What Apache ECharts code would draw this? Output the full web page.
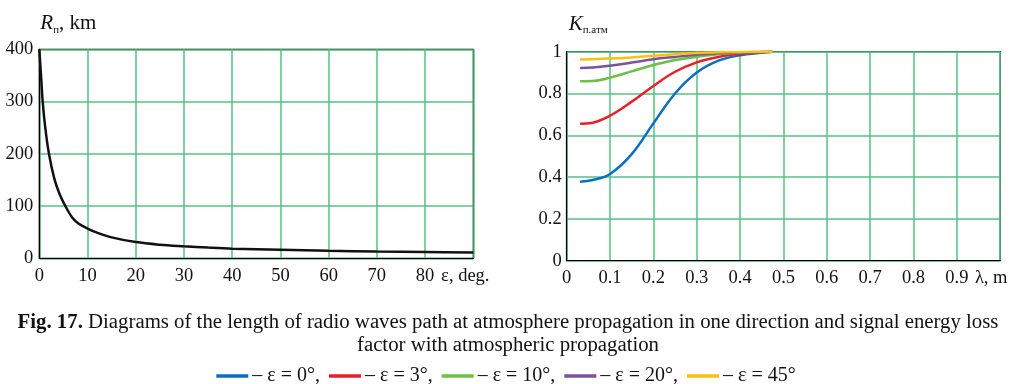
<!DOCTYPE html>
<html><head><meta charset="utf-8">
<script src="https://cdn.jsdelivr.net/npm/echarts@6/dist/echarts.min.js"></script>
<style>html,body{margin:0;padding:0;background:#fff}#c{width:1012px;height:384px}</style>
</head><body><div id="c"></div>
<script>
// Left chart: path length R (km) vs elevation angle (deg)
const epsDeg = [0, 0.4, 0.7, 1.25, 2, 3.1, 4.2, 5.4, 6.9, 8.2, 10, 12, 15, 20, 25, 30, 35, 40, 50, 60, 70, 80, 90];
const rangeKm = [400, 344, 300, 249, 200, 153, 123, 100, 77, 66, 57, 49, 40, 31, 26, 23, 20.5, 18.5, 16.5, 14.5, 13, 12, 11];
const leftXTicks = [0, 10, 20, 30, 40, 50, 60, 70, 80];
const leftYTicks = [0, 100, 200, 300, 400];

// Right chart: loss factor vs wavelength (m)
const lambdaM = [0.031, 0.06, 0.1, 0.15, 0.2, 0.25, 0.3, 0.35, 0.4, 0.45, 0.475];
const k_eps0  = [0.378, 0.386, 0.415, 0.51, 0.657, 0.80, 0.90, 0.957, 0.983, 0.995, 1.0];
const k_eps3  = [0.655, 0.66, 0.694, 0.761, 0.836, 0.904, 0.949, 0.975, 0.99, 0.998, 1.0];
const k_eps10 = [0.859, 0.86, 0.876, 0.906, 0.936, 0.96, 0.976, 0.988, 0.995, 0.999, 1.0];
const k_eps20 = [0.922, 0.924, 0.933, 0.948, 0.964, 0.975, 0.985, 0.992, 0.997, 0.999, 1.0];
const k_eps45 = [0.963, 0.964, 0.967, 0.972, 0.981, 0.988, 0.994, 0.997, 0.999, 1.0, 1.0];
const seriesNames = ['ε = 0°', 'ε = 3°', 'ε = 10°', 'ε = 20°', 'ε = 45°'];
const seriesColors = ['#0a6fc0', '#e8202a', '#6cbf45', '#7b52a0', '#fbbf10'];
const rightXTicks = [0, 0.1, 0.2, 0.3, 0.4, 0.5, 0.6, 0.7, 0.8, 0.9];

const captionBold = 'Fig. 17.';
const captionLine1 = ' Diagrams of the length of radio waves path at atmosphere propagation in one direction and signal energy loss';
const captionLine2 = 'factor with atmospheric propagation';

const FONT = '"Liberation Serif", "Times New Roman", serif';
const gridGreen = '#55c083';
const pair = (xs, ys) => xs.map((x, i) => [x, ys[i]]);

const chart = echarts.init(document.getElementById('c'));
const axisCommon = {
  axisLine: {show: true, lineStyle: {color: '#000', width: 1.2}},
  axisTick: {show: false},
  splitLine: {show: true, lineStyle: {color: gridGreen, width: 1.5}},
  axisLabel: {color: '#111', fontFamily: FONT, fontSize: 18.5}
};
const kSeries = [k_eps0, k_eps3, k_eps10, k_eps20, k_eps45];

chart.setOption({
  animation: false,
  textStyle: {fontFamily: FONT},
  grid: [
    {left: 39.3, top: 49.3, width: 434, height: 209, show: true, borderColor: '#000', borderWidth: 1.2, backgroundColor: 'transparent'},
    {left: 566.7, top: 51.7, width: 433.5, height: 209, show: true, borderColor: '#000', borderWidth: 1.2, backgroundColor: 'transparent'}
  ],
  graphic: [
    {type: 'text', x: 508, y: 323, style: {
      text: '{b|' + captionBold + '}{n|' + captionLine1 + '}', align: 'center', verticalAlign: 'middle',
      rich: {b: {fontFamily: FONT, fontSize: 20.8, fontWeight: 'bold', fill: '#111'},
             n: {fontFamily: FONT, fontSize: 20.8, fill: '#111'}}}},
    {type: 'text', x: 508, y: 346, style: {
      text: captionLine2, align: 'center', verticalAlign: 'middle', fontFamily: FONT, fontSize: 20.8, fill: '#111'}}
  ],
  legend: {
    left: 'center', top: 361, icon: 'rect', itemWidth: 32, itemHeight: 3.5, itemGap: 9,
    data: seriesNames,
    formatter: n => '– ' + n + (n === seriesNames[seriesNames.length - 1] ? '' : ','),
    textStyle: {fontFamily: FONT, fontSize: 20, color: '#111', padding: [0, 0, 0, -1]}
  },
  xAxis: [
    Object.assign({}, axisCommon, {
      gridIndex: 0, type: 'value', min: 0, max: 90, interval: 10,
      axisLabel: Object.assign({}, axisCommon.axisLabel, {margin: 8, formatter: v => leftXTicks.includes(v) ? String(v) : ''}),
      name: 'ε, deg.', nameLocation: 'end', nameGap: -8,
      nameTextStyle: {fontFamily: FONT, fontSize: 18.5, color: '#111', align: 'center', verticalAlign: 'top', padding: [8, 0, 0, 0]}
    }),
    Object.assign({}, axisCommon, {
      gridIndex: 1, type: 'value', min: 0, max: 1, interval: 0.1,
      axisLabel: Object.assign({}, axisCommon.axisLabel, {margin: 8, formatter: v => rightXTicks.some(t => Math.abs(t - v) < 1e-9) ? String(+v.toFixed(1)) : ''}),
      name: 'λ, m', nameLocation: 'end', nameGap: -9,
      nameTextStyle: {fontFamily: FONT, fontSize: 18.5, color: '#111', align: 'center', verticalAlign: 'top', padding: [8, 0, 0, 0]}
    })
  ],
  yAxis: [
    Object.assign({}, axisCommon, {
      gridIndex: 0, type: 'value', min: 0, max: 400, interval: 100,
      axisLabel: Object.assign({}, axisCommon.axisLabel, {margin: 6}),
      name: '{r|R}{s|п}{t|, km}', nameLocation: 'end', nameGap: 14,
      nameTextStyle: {align: 'left', verticalAlign: 'bottom', padding: [0, 0, 0, 1],
        rich: {r: {fontFamily: FONT, fontSize: 21, fontStyle: 'italic', color: '#111'},
               s: {fontFamily: FONT, fontSize: 11, color: '#111', padding: [12, 0, 0, 0]},
               t: {fontFamily: FONT, fontSize: 21, color: '#111'}}}
    }),
    Object.assign({}, axisCommon, {
      gridIndex: 1, type: 'value', min: 0, max: 1, interval: 0.2,
      axisLabel: Object.assign({}, axisCommon.axisLabel, {margin: 5}),
      name: '{r|K}{s|п.атм}', nameLocation: 'end', nameGap: 16,
      nameTextStyle: {align: 'left', verticalAlign: 'bottom', padding: [0, 0, 0, 2],
        rich: {r: {fontFamily: FONT, fontSize: 21, fontStyle: 'italic', color: '#111'},
               s: {fontFamily: FONT, fontSize: 11, color: '#111', padding: [12, 0, 0, 0]}}}
    })
  ],
  series: [
    {type: 'line', xAxisIndex: 0, yAxisIndex: 0, data: pair(epsDeg, rangeKm), smooth: 0.35, showSymbol: false,
     lineStyle: {color: '#111', width: 2.5}, itemStyle: {color: '#111'}}
  ].concat(kSeries.map((ks, i) => ({
    type: 'line', name: seriesNames[i], xAxisIndex: 1, yAxisIndex: 1, data: pair(lambdaM, ks), smooth: 0.4,
    showSymbol: false, lineStyle: {color: seriesColors[i], width: 2.5}, itemStyle: {color: seriesColors[i]}, z: 2 + i
  })))
});
</script>
</body></html>
